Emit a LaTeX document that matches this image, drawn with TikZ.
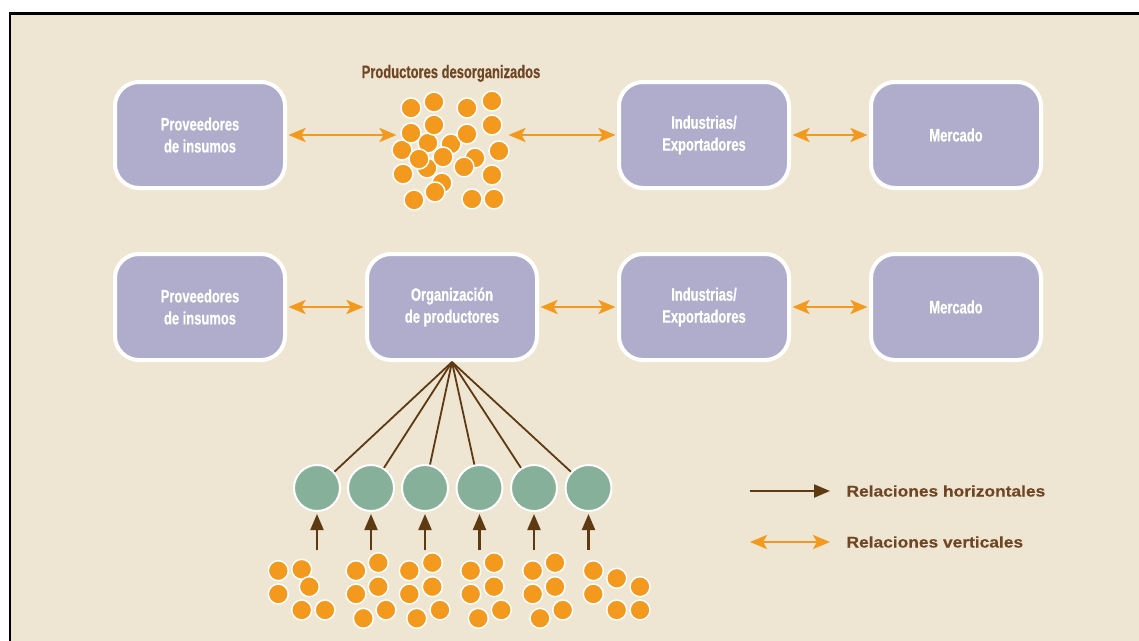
\documentclass[tikz,border=0pt]{standalone}
\usepackage{fontspec}
\setmainfont{Liberation Sans}
\newfontfamily\condfont[FakeStretch=0.72,FakeBold=0.6]{Liberation Sans}
\newfontfamily\widefont[FakeStretch=1.12,FakeBold=0.3]{Liberation Sans}
\usetikzlibrary{arrows.meta}
\definecolor{fondo}{HTML}{EFE5D3}
\definecolor{lila}{HTML}{B0ADCC}
\definecolor{naranja}{HTML}{F39A1E}
\definecolor{verde}{HTML}{86B09A}
\definecolor{cafe}{HTML}{5E3A12}
\definecolor{cafetxt}{HTML}{6E4623}

\begin{document}
\begin{tikzpicture}[x=1pt,y=-1pt,
    actor/.style={draw=white,line width=4pt,fill=lila,rounded corners=24pt,
      minimum width=170pt,minimum height=106pt,text=white,align=center,
      font=\condfont\bfseries\fontsize{18}{22}\selectfont},
    vert/.style={naranja,line width=2.8pt,
      {Stealth[length=17pt,width=14pt,inset=4pt]}-{Stealth[length=17pt,width=14pt,inset=4pt]},
      shorten <=1.5pt,shorten >=1.5pt},
    horiz/.style={cafe,line width=2.2pt,-{Triangle[length=16pt,width=13pt]}},
    punto/.style={fill=naranja,draw=white,line width=1.5pt},
    socio/.style={circle,fill=verde,draw=white,line width=2pt,minimum size=46pt,inner sep=0pt},
    leyenda/.style={text=cafetxt,font=\widefont\bfseries\fontsize{15.5}{18}\selectfont},
  ]
  \useasboundingbox (0,0) rectangle (1139,640);
  \filldraw[fill=fondo,draw=black,line width=2.5pt] (10,13.5) rectangle (1160,660);

  % fila superior: productores desorganizados
  \node[actor] (prov1) at (200,135) {Proveedores\\de insumos};
  \node[actor] (ind1) at (704,135) {Industrias/\\Exportadores};
  \node[actor] (merc1) at (956,135) {Mercado};
  \node[anchor=base,text=cafetxt,font=\condfont\bfseries\fontsize{18}{20}\selectfont]
    (tdes) at (451,78) {Productores desorganizados};
  \coordinate (desL) at (398,135);
  \coordinate (desR) at (507,135);
  \draw[vert] (prov1.east) -- (desL);
  \draw[vert] (desR) -- (ind1.west);
  \draw[vert] (ind1.east) -- (merc1.west);
  \foreach \x/\y in {402/150,428/143,451/144,475/158,427/168,442/183,
      411/108,434/102,467/108,492/101,411/133,434/125,467/134,492/125,
      499/151,419/159,443/157,464/167,403/174,492/175,435/192,414/200,472/199,494/199}
    \filldraw[punto] (\x,\y) circle (10pt);

  % fila inferior: productores organizados
  \node[actor] (prov2) at (200,307) {Proveedores\\de insumos};
  \node[actor] (org) at (452,307) {Organizaci\'on\\de productores};
  \node[actor] (ind2) at (704,307) {Industrias/\\Exportadores};
  \node[actor] (merc2) at (956,307) {Mercado};
  \draw[vert] (prov2.east) -- (org.west);
  \draw[vert] (org.east) -- (ind2.west);
  \draw[vert] (ind2.east) -- (merc2.west);

  \foreach \i/\x in {1/317,2/371,3/425,4/479.5,5/534,6/588.5} {
    \node[socio] (g\i) at (\x,488) {};
    \draw[cafe,line width=1.8pt] (org.south) -- (g\i);
    \coordinate (base\i) at (\x,550);
    \draw[horiz,shorten >=2pt] (base\i) -- (g\i);
  }
  \foreach \x/\y in {278.3/570.7,301.7/569.3,309.3/586.7,278.3/594,301.7/610,325/610,
      356/570.7,378.3/562.7,378.3/586.7,356/594,363.3/618.3,386/610,
      409.3/570.7,432.3/562.7,432.3/586.7,409.3/594,416.7/618.3,440/610,
      470.7/570.7,494/562.7,494/586.7,470.7/594,478.3/618.3,501.3/610,
      532.7/570.7,555/562.7,555/586.7,532.7/594,540/618.3,562.7/610,
      593.3/570.7,616.7/578.3,640/586.7,593.3/594,616.7/610,640/610}
    \filldraw[punto] (\x,\y) circle (10pt);

  % leyenda
  \coordinate (lh1) at (750,491);
  \coordinate (lh2) at (830,491);
  \draw[horiz] (lh1) -- (lh2);
  \node[leyenda,anchor=base west] (thor) at (843,496.5) {Relaciones horizontales};
  \coordinate (lv1) at (750,542);
  \coordinate (lv2) at (830,542);
  \draw[vert,shorten <=0pt,shorten >=0pt] (lv1) -- (lv2);
  \node[leyenda,anchor=base west] (tver) at (843,547.5) {Relaciones verticales};
\end{tikzpicture}
\end{document}
